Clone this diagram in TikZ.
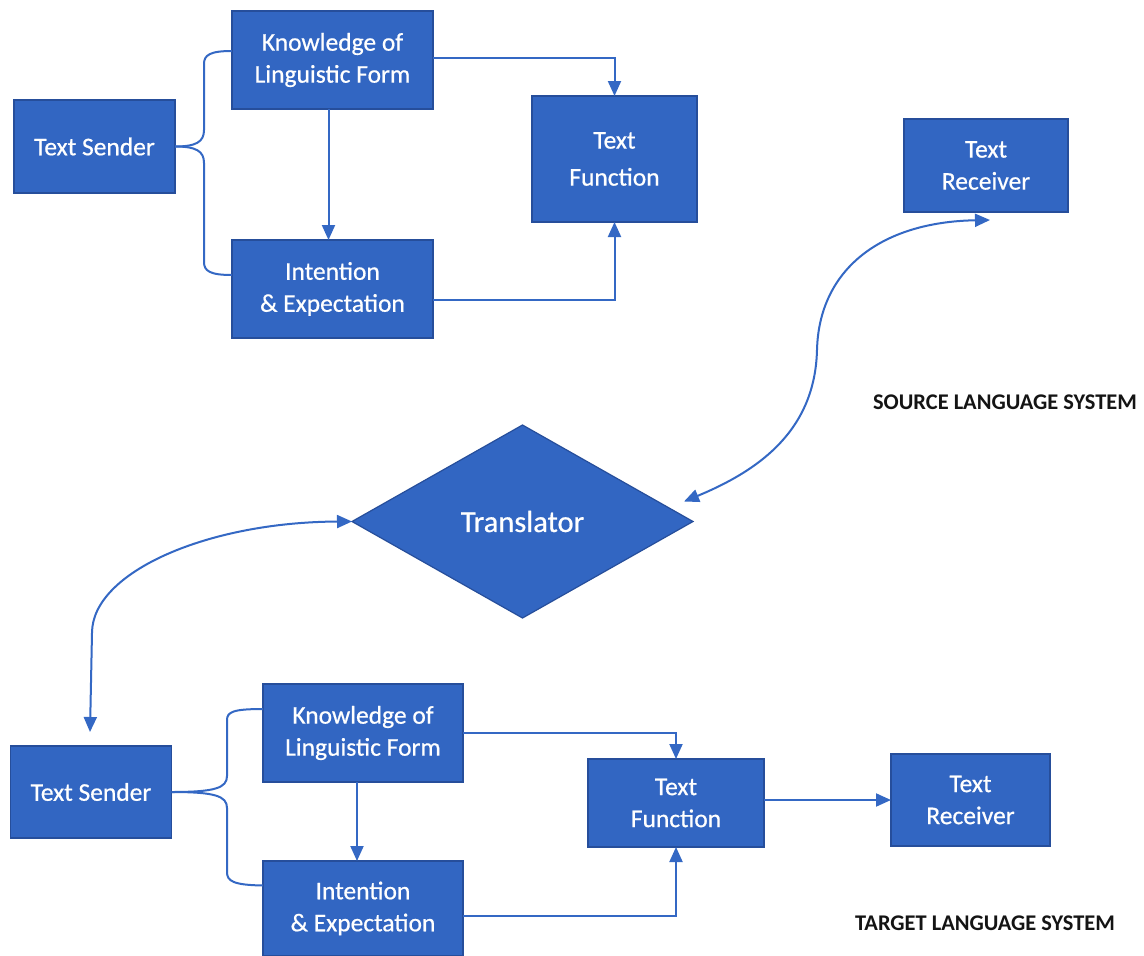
\documentclass[tikz,border=0pt]{standalone}
\usepackage{fontspec}
\setmainfont{Carlito}
\newfontfamily\boxfont[FakeBold=0.6]{Carlito}
\usetikzlibrary{arrows.meta,shapes.geometric,calc}
\definecolor{boxfill}{RGB}{50,102,194}
\definecolor{boxline}{RGB}{38,78,155}
\definecolor{connc}{RGB}{52,104,196}
\begin{document}
\begin{tikzpicture}[x=1pt,y=-1pt,
  blk/.style={draw=boxline, line width=1.2pt, fill=boxfill, text=white, align=center,
    inner sep=0pt, outer sep=0pt, font=\boxfont\fontsize{25.5}{32}\selectfont},
  conn/.style={draw=connc, line width=2pt},
  arr/.style={conn, -{Triangle[length=15pt,width=13pt]}},
  arrboth/.style={conn, {Triangle[length=15pt,width=13pt]}-{Triangle[length=15pt,width=13pt]}},
  lab/.style={font=\fontsize{22.4}{26}\selectfont\bfseries, text=black!92}]
\useasboundingbox[fill=white] (0,0) rectangle (1144,956);

% ---- source language system ----
\node[blk, minimum width=161pt, minimum height=93pt] (ts1) at (94.5,146.5) {Text Sender};
\node[blk, minimum width=201pt, minimum height=98pt] (klf1) at (332.5,60) {Knowledge of\\Linguistic Form};
\node[blk, minimum width=201pt, minimum height=98pt] (ie1) at (332.5,289) {Intention\\\& Expectation};
\node[blk, minimum width=165pt, minimum height=126pt, font=\boxfont\fontsize{25.5}{37}\selectfont] (tf1) at (614.5,159) {Text\\Function};
\node[blk, minimum width=164pt, minimum height=93pt] (tr1) at (986,165.5) {Text\\Receiver};

% ---- translator ----
\node[draw=boxline, line width=1.2pt, fill=boxfill, diamond, minimum width=341pt, minimum height=193pt,
  inner sep=0pt, outer sep=0pt, text=white, font=\boxfont\fontsize{30.5}{36}\selectfont] (tr) at (522.5,521.5) {Translator};

% ---- target language system ----
\node[blk, minimum width=161pt, minimum height=92pt] (ts2) at (91,792) {Text Sender};
\node[blk, minimum width=200pt, minimum height=98pt] (klf2) at (363,733) {Knowledge of\\Linguistic Form};
\node[blk, minimum width=200pt, minimum height=95pt] (ie2) at (363,908.5) {Intention\\\& Expectation};
\node[blk, minimum width=176pt, minimum height=88pt] (tf2) at (676,803) {Text\\Function};
\node[blk, minimum width=159pt, minimum height=92pt] (tr2) at (970.5,800) {Text\\Receiver};

% ---- labels ----
\node[lab] (src) at (1005,402) {SOURCE LANGUAGE SYSTEM};
\node[lab] (tgt) at (985,923) {TARGET LANGUAGE SYSTEM};

% ---- braces ----
\draw[conn] (ts1.east) .. controls (196,146.5) and (204,142) .. (204,130) -- (204,64)
  .. controls (204,55) and (210,51) .. ($(klf1.west)+(0,-9)$);
\draw[conn] (ts1.east) .. controls (196,146.5) and (204,151) .. (204,163) -- (204,262)
  .. controls (204,271) and (210,275) .. ($(ie1.west)+(0,-14)$);
\draw[conn] (ts2.east) .. controls (215,792) and (227,788) .. (227,776) -- (227,720)
  .. controls (227,712) and (233,709) .. ($(klf2.west)+(0,-24)$);
\draw[conn] (ts2.east) .. controls (215,792) and (227,796) .. (227,808) -- (227,872)
  .. controls (227,881) and (233,885) .. ($(ie2.west)+(0,-23)$);

% ---- arrows ----
\draw[arr] ($(klf1.south)+(-4,0)$) -- ($(ie1.north)+(-4,0)$);
\draw[arr] ($(klf1.east)+(0,-2)$) -| (tf1.north);
\draw[arr] ($(ie1.east)+(0,11)$) -| (tf1.south);
\draw[arr] ($(klf2.south)+(-6,0)$) -- ($(ie2.north)+(-6,0)$);
\draw[arr] (klf2.east) -| (tf2.north);
\draw[arr] ($(ie2.east)+(0,7)$) -| (tf2.south);
\draw[arr] (tf2.east |- tr2.west) -- (tr2.west);

% ---- curved links ----
\draw[arrboth] ($(tr.east)+(-9,-20)$) .. controls (760,470) and (815,430) .. (817,350)
  .. controls (819,270) and (880,222) .. ($(tr1.south)+(4,8)$);
\draw[arrboth] (tr.west) .. controls (208,522) and (92,572) .. (92,633) -- ($(ts2.north)+(-1,-14)$);
\end{tikzpicture}
\end{document}
